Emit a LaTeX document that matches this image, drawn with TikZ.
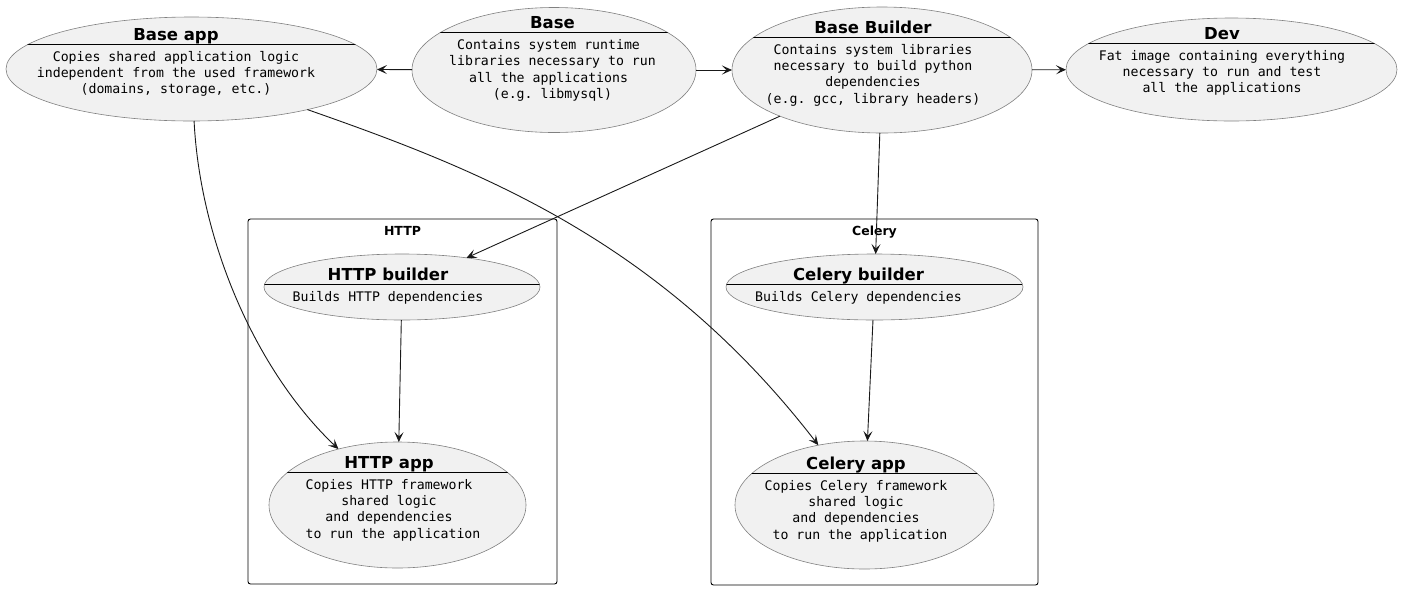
\documentclass[tikz,border=0pt]{standalone}
\usepackage{fontspec}
\setmainfont{DejaVu Sans}
\setmonofont{DejaVu Sans Mono}
\usetikzlibrary{shapes.geometric,arrows.meta}

\tikzset{
  usecase/.style={ellipse, draw=black!50, line width=0.6pt, fill=black!5.5, inner sep=0pt, outer sep=0pt},
  uctitle/.style={anchor=base, inner sep=0pt, font=\fontsize{16.5}{19}\selectfont\bfseries},
  ucbody/.style={anchor=north, inner sep=0pt, align=center, font=\fontsize{13.2}{16.3}\selectfont\ttfamily},
  pkg/.style={draw=black, line width=0.9pt, rounded corners=2.5pt},
  pkglabel/.style={anchor=base, inner sep=0pt, font=\fontsize{12.5}{15}\selectfont\bfseries},
  dep/.style={draw=black!90, line width=0.9pt, -{Stealth[length=10pt,width=9pt,inset=4.5pt]}},
}

\begin{document}
\begin{tikzpicture}[x=1pt, y=-1pt]
\useasboundingbox (0,0) rectangle (1401,590);

\def\ytop{70};
\def\yb{287};
\def\ya{505};

% packages
\draw[pkg] (248,219) rectangle (557,584);
\node[pkglabel] (http) at (402.5,235) {HTTP};
\draw[pkg] (711,219) rectangle (1038,585);
\node[pkglabel] (celery) at (874.5,235) {Celery};

% use cases
\node[usecase, minimum width=371pt, minimum height=104pt] (ba) at (191.5,69) {};
\node[usecase, minimum width=284pt, minimum height=125pt] (b) at (554,\ytop) {};
\node[usecase, minimum width=300pt, minimum height=126pt] (bb) at (882,\ytop) {};
\node[usecase, minimum width=331pt, minimum height=103pt] (dev) at (1231.5,69.5) {};
\node[usecase, minimum width=276pt, minimum height=66pt] (hb) at (402,\yb) {};
\node[usecase, minimum width=257pt, minimum height=126pt] (ha) at (397.5,\ya) {};
\node[usecase, minimum width=297pt, minimum height=66pt] (cb) at (874.5,\yb) {};
\node[usecase, minimum width=259pt, minimum height=128pt] (ca) at (864.5,\ya) {};

\foreach \cx/\cy/\rx/\ry/\sy in {191.5/69/185.5/52/44, 554/70/142/62.5/32.3,
    882/70/150/63/37, 1231.5/69.5/165.5/51.5/43, 402/287/138/33/284,
    397.5/505/128.5/63/472, 874.5/287/148.5/33/284, 864.5/505/129.5/64/473} {
  \begin{scope}
    \clip (\cx,\cy) ellipse [x radius=\rx pt, y radius=\ry pt];
    \draw[line width=0.9pt] (\cx-\rx,\sy) -- (\cx+\rx,\sy);
  \end{scope}
}

\node[uctitle] (bat) at (176,40.5) {Base app};
\node[ucbody] (bab) at (176,51) {Copies shared application logic\\independent from the used framework\\(domains, storage, etc.)};
\node[uctitle] (bt) at (552.5,28.8) {Base};
\node[ucbody] (bbody) at (552.5,39.3) {Contains system runtime\hphantom{x}\\libraries necessary to run\\all the applications\hphantom{x}\\(e.g. libmysql)};
\node[uctitle] (bbt) at (873,33.5) {Base Builder};
\node[ucbody] (bbb) at (873,44) {Contains system libraries\\necessary to build python\\dependencies\\(e.g. gcc, library headers)};
\node[uctitle] (devt) at (1222,39.5) {Dev};
\node[ucbody] (devb) at (1222,50) {Fat image containing everything\\necessary to run and test\\all the applications};
\node[uctitle] (hbt) at (388,280.5) {HTTP builder};
\node[ucbody] (hbb) at (388,291) {Builds HTTP dependencies};
\node[uctitle] (hat) at (389,468.5) {HTTP app};
\node[ucbody] (hab) at (389,479) {Copies HTTP framework\\shared logic\\and dependencies\\\mbox{}\ to run the application};
\node[uctitle] (cbt) at (858.5,280.5) {Celery builder};
\node[ucbody] (cbb) at (858.5,291) {Builds Celery dependencies};
\node[uctitle] (cat) at (856,469.5) {Celery app};
\node[ucbody] (cab) at (856,480) {Copies Celery framework\\shared logic\\and dependencies\\\mbox{}\ to run the application};

% dependencies
\draw[dep] (b) -- (ba);
\draw[dep] (b) -- (bb);
\draw[dep] (bb) -- (dev);
\draw[dep] (bb) -- (hb);
\draw[dep] (bb) -- (cb);
\draw[dep] (hb) -- (ha);
\draw[dep] (cb) -- (ca);
\draw[dep] (ba) .. controls (200,240) and (255,370) .. (ha);
\draw[dep] (ba) .. controls (480,170) and (660,240) .. (ca);
\end{tikzpicture}
\end{document}
